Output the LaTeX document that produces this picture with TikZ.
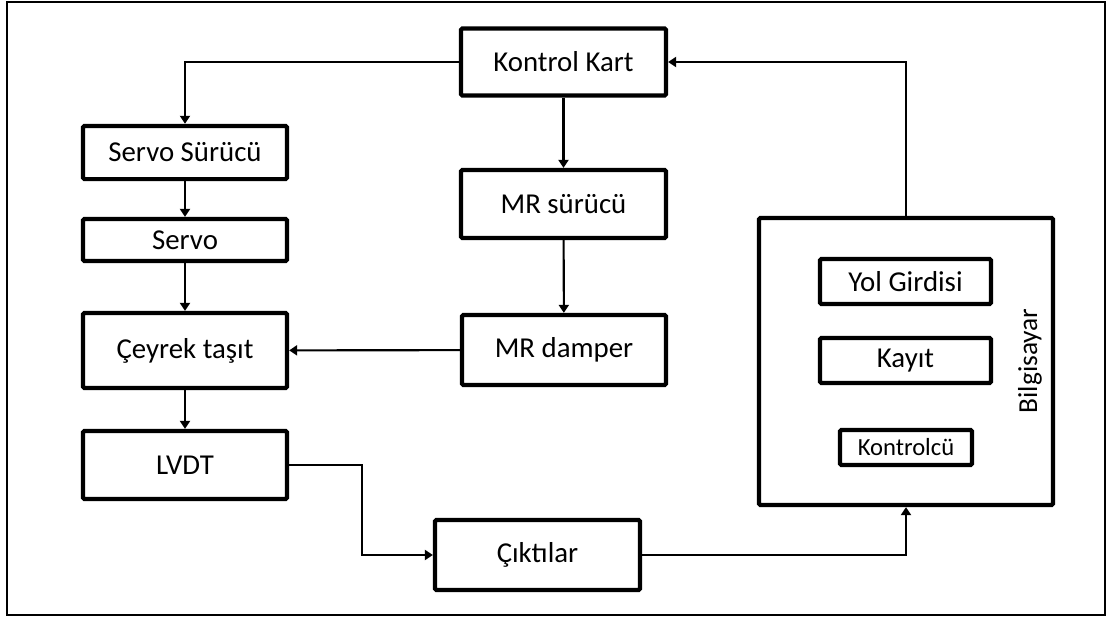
\documentclass[tikz,border=0pt]{standalone}
\usepackage{fontspec}
\setmainfont{Carlito}
\usetikzlibrary{arrows.meta, positioning}
\tikzset{
  blk/.style={rectangle, draw, line width=3pt, rounded corners=1pt,
              minimum width=5.1cm, inner sep=2pt, align=center,
              font=\fontsize{20.5}{24}\selectfont},
  inner/.style={blk, minimum width=4.275cm, minimum height=1.125cm},
  arr/.style={-{Triangle[length=0.2cm, width=0.25cm]}, line width=1.5pt},
}

\begin{document}
\begin{tikzpicture}[x=0.025cm, y=-0.025cm]
  \useasboundingbox (0,0) rectangle (1113,619);
  \draw[line width=1.5pt] (7,2) rectangle (1105,615);

  % left column
  \node[blk, minimum height=1.33cm]  (servodrv) at (185,152.5) {Servo Sürücü};
  \node[blk, minimum height=1.05cm]  (servo)    at (185,240)   {Servo};
  \node[blk, minimum height=1.875cm] (ceyrek)   at (185,350.5) {Çeyrek taşıt};
  \node[blk, minimum height=1.7cm]   (lvdt)     at (185,465)   {LVDT};

  % middle column
  \node[blk, minimum width=5.125cm, minimum height=1.675cm] (kart)   at (563.5,62)  {Kontrol Kart};
  \node[blk, minimum width=5.125cm, minimum height=1.7cm]   (mrdrv)  at (563.5,204) {MR sürücü};
  \node[blk, minimum width=5.1cm, minimum height=1.75cm]    (damper) at (564,350)   {MR damper};
  \node[blk, minimum width=5.125cm, minimum height=1.75cm]  (cikti)  at (537.5,555) {Çıktılar};

  % computer block
  \node[blk, minimum width=7.35cm, minimum height=7.175cm] (pc) at (906,361.5) {};
  \node[inner] (yol)   at (905.5,281.5) {Yol Girdisi};
  \node[inner] (kayit) at (905.5,360.5) {Kayıt};
  \node[inner, minimum width=3.3cm, minimum height=0.875cm,
        font=\fontsize{17.5}{21}\selectfont] (ctrl) at (906,447.5) {Kontrolcü};
  \node[rotate=90, font=\fontsize{19.5}{23}\selectfont] (pclabel) at (1030,361) {Bilgisayar};

  \coordinate (bend) at (362,510);

  \draw[arr] (kart.west) -| (servodrv.north);
  \draw[arr] (servodrv) -- (servo);
  \draw[arr] (servo) -- (ceyrek);
  \draw[arr] (ceyrek) -- (lvdt);
  \draw[arr] (kart) -- (mrdrv);
  \draw[arr] (mrdrv) -- (damper);
  \draw[arr] (damper) -- (ceyrek);
  \draw[arr] (lvdt.east) -| (bend) |- (cikti.west);
  \draw[arr] (cikti.east) -| (pc.south);
  \draw[arr] (pc.north) |- (kart.east);
\end{tikzpicture}
\end{document}
